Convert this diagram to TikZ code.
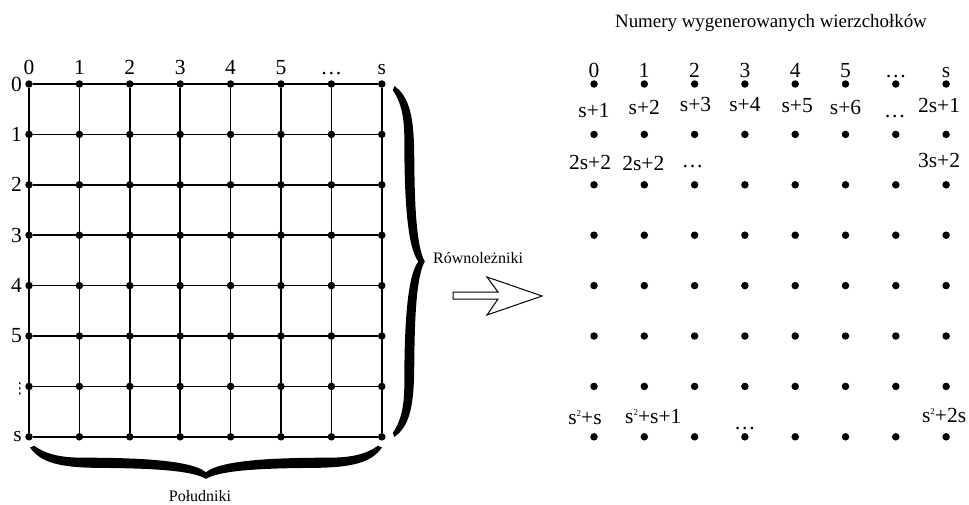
\documentclass[tikz,border=0pt]{standalone}
\usepackage{fontspec}
\setmainfont{Liberation Serif}
\newfontfamily\dejavu{DejaVu Sans}
\newcommand{\kwadrat}{\raisebox{0.8ex}{\fontsize{9}{9}\selectfont 2}}
\usetikzlibrary{positioning, calc}

\begin{document}
\begin{tikzpicture}[
        x=1pt, y=-1pt,
        dot/.style={circle, fill=black, inner sep=0pt, minimum size=7.5pt},
        num/.style={font=\fontsize{21.5}{24}\selectfont, inner sep=0pt, anchor=base},
        caption/.style={font=\fontsize{16}{18}\selectfont, inner sep=0pt, anchor=base},
        edge/.style={line width=1.5pt},
        bigbrace/.pic={
            \fill (0.012,0) .. controls (0.04,0.22) and (0.08,0.36) .. (0.15,0.36)
                .. controls (0.32,0.36) and (0.46,0.45) .. (0.5,0.8)
                .. controls (0.54,0.45) and (0.68,0.36) .. (0.85,0.36)
                .. controls (0.92,0.36) and (0.96,0.22) .. (0.988,0)
                -- (1,0.05)
                .. controls (0.97,0.5) and (0.92,0.66) .. (0.8,0.67)
                .. controls (0.65,0.68) and (0.54,0.75) .. (0.5,1)
                .. controls (0.46,0.75) and (0.35,0.68) .. (0.2,0.67)
                .. controls (0.08,0.66) and (0.03,0.5) .. (0,0.05) -- cycle;
        }
    ]

    \useasboundingbox (0,0) rectangle (969,504);

    % Wierzcholki
    \foreach \i in {0,...,7}
        \foreach \j in {0,...,7} {
            \node[dot] (L-\i-\j) at ({29+50.4*\i}, {84+50.4*\j}) {};
            \node[dot] (R-\i-\j) at ({594+50.3*\i}, {84+50.4*\j}) {};
        }

    % Krawedzie
    \foreach \k in {0,...,7} {
        \draw[edge] (L-0-\k) -- (L-7-\k);
        \draw[edge] (L-\k-0) -- (L-\k-7);
    }

    % Etykiety siatki
    \foreach \t [count=\i from 0] in {0,1,2,3,4,5,\dots,s}
        \node[num] (Lc-\i) at ($(L-\i-0)+(0,-10)$) {\t};
    \foreach \j/\t in {0/0,1/1,2/2,3/3,4/4,5/5,7/s}
        \node[num, anchor=east] (Lr-\j) at ($(L-0-\j)+(-7,0)$) {\t};
    \node[inner sep=0pt, font=\dejavu\fontsize{15}{15}\selectfont] (Lr-6) at ($(L-0-6)+(-9,2)$) {⋮};

    % Numery
    \foreach \t [count=\i from 0] in {0,1,2,3,4,5,\dots,s}
        \node[num] (R0-\i) at ($(R-\i-0)+(0,-7)$) {\t};
    \foreach \i/\dx/\dy/\t in {0/0/-17/s+1, 1/0/-20/s+2, 2/1/-23/s+3, 3/0/-23/s+4,
            4/2/-22/s+5, 5/0/-20/s+6, 6/-1/-17/\dots, 7/-7/-22/2s+1}
        \node[num] (R1-\i) at ($(R-\i-1)+(\dx,\dy)$) {\t};
    \foreach \i/\dx/\dy/\t in {0/-4/-15/2s+2, 1/-1/-14/2s+2, 2/-2/-17/\dots, 7/-7/-17/3s+2}
        \node[num] (R2-\i) at ($(R-\i-2)+(\dx,\dy)$) {\t};
    \foreach \i/\dx/\dy/\t in {0/-9/-12/s\kwadrat+s, 1/9/-13/s\kwadrat+s+1,
            3/0/-7/\dots, 7/-2/-14/s\kwadrat+2s}
        \node[num] (R7-\i) at ($(R-\i-7)+(\dx,\dy)$) {\t};

    \node[caption, font=\fontsize{18.9}{20}\selectfont] (title) at (771,27) {Numery wygenerowanych wierzchołków};

    % Klamry
    \pic[rotate=-90, xscale=351, yscale=-32] at ($(L-7-0)+(11,2)$) {bigbrace};
    \node[caption, anchor=base west] (rown) at (433,263) {Równoleżniki};
    \pic[xscale=352, yscale=33] at ($(L-0-7)+(1,9)$) {bigbrace};
    \node[caption] (pold) at (200,501) {Południki};

    % Strzalka
    \draw[line width=1pt] (453,292) -- (498,292) -- (487,277) -- (542,296)
        -- (487,315) -- (498,299) -- (453,299) -- cycle;

\end{tikzpicture}
\end{document}
